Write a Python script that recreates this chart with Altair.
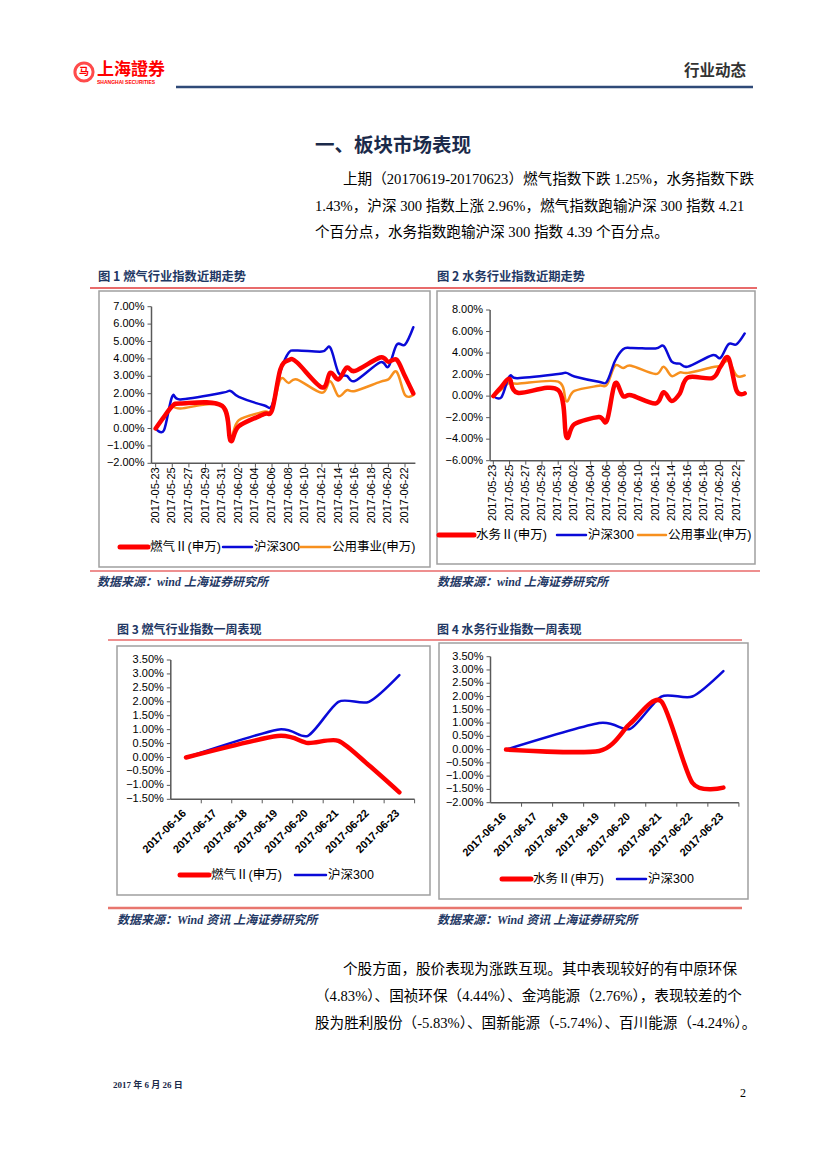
import altair as alt
import pandas as pd

# ---------------- data ----------------
long_dates = ["2017-05-23", "2017-05-24", "2017-05-25", "2017-05-26", "2017-05-31",
              "2017-06-01", "2017-06-02", "2017-06-05", "2017-06-06", "2017-06-07",
              "2017-06-08", "2017-06-09", "2017-06-12", "2017-06-13", "2017-06-14",
              "2017-06-15", "2017-06-16", "2017-06-19", "2017-06-20", "2017-06-21",
              "2017-06-22", "2017-06-23"]
gas_long = [0.00, 0.67, 1.28, 1.44, 1.30, -0.70, 0.13, 0.82, 1.05, 3.40, 3.93, 3.80,
            2.36, 3.20, 2.82, 3.50, 3.31, 4.08, 3.83, 3.95, 3.00, 2.01]
water_long = [0.00, 0.87, 1.60, 0.31, 0.56, -3.78, -2.60, -1.95, -2.29, 1.18, 0.00, 0.08,
              -0.68, 0.37, -0.45, 0.25, 1.73, 1.68, 2.72, 3.55, 0.50, 0.25]
hs300_long = [0.00, -0.10, 1.85, 1.67, 2.05, 2.16, 1.82, 1.34, 1.34, 3.26, 4.35, 4.48,
              4.42, 4.65, 3.20, 3.02, 2.74, 3.80, 3.55, 4.82, 4.82, 5.82]
util_long = [0.00, 0.60, 1.25, 1.15, 1.34, -0.48, 0.48, 0.96, 1.05, 2.82, 2.62, 2.82,
             2.05, 2.72, 1.86, 2.20, 2.16, 2.68, 2.82, 3.26, 1.92, 1.92]

week_dates = ["2017-06-16", "2017-06-19", "2017-06-20", "2017-06-21", "2017-06-22", "2017-06-23"]
gas_week = [0.00, 0.77, 0.52, 0.60, -0.28, -1.25]
water_week = [0.00, -0.05, 0.98, 1.82, -1.25, -1.43]
hs300_week = [0.00, 1.00, 0.78, 2.00, 2.00, 2.96]

long_xlabels = ["2017-05-23", "2017-05-25", "2017-05-27", "2017-05-29", "2017-05-31",
                "2017-06-02", "2017-06-04", "2017-06-06", "2017-06-08", "2017-06-10",
                "2017-06-12", "2017-06-14", "2017-06-16", "2017-06-18", "2017-06-20",
                "2017-06-22"]
week_xlabels = ["2017-06-16", "2017-06-17", "2017-06-18", "2017-06-19", "2017-06-20",
                "2017-06-21", "2017-06-22", "2017-06-23"]

yticks_1 = [-2, -1, 0, 1, 2, 3, 4, 5, 6, 7]
yticks_2 = [-6, -4, -2, 0, 2, 4, 6, 8]
yticks_3 = [-1.5, -1, -0.5, 0, 0.5, 1, 1.5, 2, 2.5, 3, 3.5]
yticks_4 = [-2, -1.5, -1, -0.5, 0, 0.5, 1, 1.5, 2, 2.5, 3, 3.5]

name_gas = "燃气Ⅱ(申万)"
name_water = "水务Ⅱ(申万)"
name_hs = "沪深300"
name_util = "公用事业(申万)"

para1 = ["上期（20170619-20170623）燃气指数下跌 1.25%，水务指数下跌",
         "1.43%，沪深 300 指数上涨 2.96%，燃气指数跑输沪深 300 指数 4.21",
         "个百分点，水务指数跑输沪深 300 指数 4.39 个百分点。"]
para2 = ["个股方面，股价表现为涨跌互现。其中表现较好的有中原环保",
         "（4.83%）、国祯环保（4.44%）、金鸿能源（2.76%），表现较差的个",
         "股为胜利股份（-5.83%）、国新能源（-5.74%）、百川能源（-4.24%）。"]

# ---------------- styles ----------------
RED = "#FF0000"
BLUE = "#0A0AD8"
ORANGE = "#F7901E"
NAVY = "#1F3864"
GRAY = "#A0A0A0"
AXIS = "#595959"
CJK = "Noto Sans CJK SC"
SERIF = "Liberation Serif, 'Noto Sans CJK SC'"
ARIAL = "Liberation Sans, 'Noto Sans CJK SC'"

ONE = alt.Data(values=[{"k": 0}])


def X(px):
    return px - 8


def Y(py):
    return py - 8


def T(text, x, y, size, color="#000000", font=CJK, weight="normal", style="normal",
      align="left", baseline="middle"):
    return alt.Chart(ONE).mark_text(
        text=text, fontSize=size, color=color, font=font, fontWeight=weight,
        fontStyle=style, align=align, baseline=baseline
    ).encode(x=alt.value(X(x)), y=alt.value(Y(y)))


def hline(x1, x2, y, color, width):
    return alt.Chart(ONE).mark_rule(color=color, strokeWidth=width).encode(
        x=alt.value(X(x1)), x2=alt.value(X(x2)), y=alt.value(Y(y)))


def frame(x1, y1, x2, y2):
    return alt.Chart(ONE).mark_rect(fillOpacity=0, stroke=GRAY, strokeWidth=1.5).encode(
        x=alt.value(X(x1)), x2=alt.value(X(x2)), y=alt.value(Y(y1)), y2=alt.value(Y(y2)))


def legend_item(x1, x2, y, color, width, label):
    seg = alt.Chart(ONE).mark_rule(color=color, strokeWidth=width, strokeCap="round").encode(
        x=alt.value(X(x1)), x2=alt.value(X(x2)), y=alt.value(Y(y)))
    return [seg, T(label, x2 + 2, y, 12.5, "#000000", ARIAL)]


def days(dates, start):
    s = pd.Timestamp(start)
    return [(pd.Timestamp(d) - s).days for d in dates]


def panel(xdom, xr, ydom, yr, series, start, xlabels, yticks, weekly):
    xs = alt.Scale(domain=xdom, range=[X(xr[0]), X(xr[1])], nice=False, zero=False)
    ys = alt.Scale(domain=ydom, range=[Y(yr[0]), Y(yr[1])], nice=False, zero=False)
    layers = []
    axes_df = pd.DataFrame({"x": [xdom[0], xdom[0]], "x2": [xdom[0], xdom[1]],
                            "y": [ydom[0], ydom[0]], "y2": [ydom[1], ydom[0]]})
    layers.append(alt.Chart(axes_df).mark_rule(color=AXIS, strokeWidth=1.5).encode(
        x=alt.X("x:Q", scale=xs, axis=None), x2="x2:Q",
        y=alt.Y("y:Q", scale=ys, axis=None), y2="y2:Q"))
    ydf = pd.DataFrame({"v": yticks})
    layers.append(alt.Chart(ydf).mark_rule(color=AXIS, strokeWidth=1).encode(
        y=alt.Y("v:Q", scale=ys, axis=None),
        x=alt.value(X(xr[0] - 4)), x2=alt.value(X(xr[0]))))
    layers.append(alt.Chart(ydf).transform_calculate(
        lab="format(datum.v, '.2f') + '%'"
    ).mark_text(align="right", baseline="middle", fontSize=11, font=ARIAL, color="#000000").encode(
        y=alt.Y("v:Q", scale=ys, axis=None), x=alt.value(X(xr[0] - 7)), text="lab:N"))
    xdf = pd.DataFrame({"lab": xlabels, "d": days(xlabels, start)})
    if weekly:
        tension = 0.25
        layers.append(alt.Chart(xdf).transform_calculate(t="datum.d + 0.5").mark_rule(
            color=AXIS, strokeWidth=1).encode(
            x=alt.X("t:Q", scale=xs, axis=None),
            y=alt.value(Y(yr[0])), y2=alt.value(Y(yr[0] + 4))))
        layers.append(alt.Chart(xdf).mark_text(
            angle=315, align="right", baseline="middle", fontSize=11, font=ARIAL,
            fontWeight="bold", color="#000000", dx=-2).encode(
            x=alt.X("d:Q", scale=xs, axis=None), y=alt.value(Y(yr[0] + 11)), text="lab:N"))
    else:
        tension = 0.0
        layers.append(alt.Chart(xdf).mark_rule(color=AXIS, strokeWidth=1).encode(
            x=alt.X("d:Q", scale=xs, axis=None),
            y=alt.value(Y(yr[0])), y2=alt.value(Y(yr[0] + 4))))
        layers.append(alt.Chart(xdf).mark_text(
            angle=270, align="right", baseline="middle", fontSize=11, font=ARIAL,
            color="#000000").encode(
            x=alt.X("d:Q", scale=xs, axis=None), y=alt.value(Y(yr[0] + 4)), text="lab:N"))
    for dates, vals, color, width in series:
        df = pd.DataFrame({"d": days(dates, start), "v": vals})
        layers.append(alt.Chart(df).mark_line(
            color=color, strokeWidth=width, interpolate="cardinal", tension=tension,
            strokeCap="round", strokeJoin="round").encode(
            x=alt.X("d:Q", scale=xs, axis=None), y=alt.Y("v:Q", scale=ys, axis=None)))
    return alt.layer(*layers)


p1 = panel([-0.5, 31.25], [151.5, 415.4], [-2, 7], [463.3, 306.7],
           [(long_dates, util_long, ORANGE, 2.5), (long_dates, hs300_long, BLUE, 2.5),
            (long_dates, gas_long, RED, 4.5)],
           "2017-05-23", long_xlabels, yticks_1, False)
p2 = panel([-0.4, 31.0], [490.1, 744.7], [-6, 8], [460.7, 310.0],
           [(long_dates, util_long, ORANGE, 2.5), (long_dates, hs300_long, BLUE, 2.5),
            (long_dates, water_long, RED, 4.5)],
           "2017-05-23", long_xlabels, yticks_2, False)
p3 = panel([-0.5, 7.5], [170.8, 414.6], [-1.5, 3.5], [799.3, 660.0],
           [(week_dates, hs300_week, BLUE, 2.5), (week_dates, gas_week, RED, 4.5)],
           "2017-06-16", week_xlabels, yticks_3, True)
p4 = panel([-0.5, 7.5], [490.5, 738.9], [-2, 3.5], [802.7, 656.7],
           [(week_dates, hs300_week, BLUE, 2.5), (week_dates, water_week, RED, 4.5)],
           "2017-06-16", week_xlabels, yticks_4, True)

items = []
# header
items.append(alt.Chart(ONE).mark_point(shape="circle", size=330, filled=False, color=RED,
                                        strokeWidth=3).encode(x=alt.value(X(84)), y=alt.value(Y(72))))
items.append(T("马", 84, 72, 10, RED, CJK, "bold", align="center"))
items.append(T("上海證券", 97, 70, 17, RED, CJK, "bold"))
items.append(T("SHANGHAI SECURITIES", 97, 82, 5, RED, ARIAL, "bold"))
items.append(T("行业动态", 746, 71, 15.5, "#333333", CJK, "bold", align="right"))
items.append(hline(176, 753, 87, "#2F4A78", 2.5))

# section title and paragraph
items.append(T("一、板块市场表现", 315, 146, 19.5, "#1B2A4A", CJK, "bold"))
for i, line in enumerate(para1):
    items.append(T(line, 343 if i == 0 else 315, 180 + 26.5 * i, 14.6, "#000000", SERIF))

# figure titles & separators
items.append(T("图 1 燃气行业指数近期走势", 98, 277, 12.3, NAVY, CJK, "bold"))
items.append(T("图 2 水务行业指数近期走势", 437, 277, 12.3, NAVY, CJK, "bold"))
items.append(hline(90, 757, 288, "#E03A3A", 1.5))
items.append(frame(99, 291, 430, 567))
items.append(frame(437, 291, 755, 564))
items.append(hline(90, 760, 571, "#E86A6A", 1.5))
items.append(T("数据来源：wind 上海证券研究所", 97, 582, 12, NAVY, SERIF, "bold", "italic"))
items.append(T("数据来源：wind 上海证券研究所", 437, 582, 12, NAVY, SERIF, "bold", "italic"))

items.append(T("图 3 燃气行业指数一周表现", 117, 630, 12, NAVY, CJK, "bold"))
items.append(T("图 4 水务行业指数一周表现", 437, 630, 12, NAVY, CJK, "bold"))
items.append(hline(108, 742, 640, "#E86A6A", 1.5))
items.append(frame(117, 646, 430, 895))
items.append(frame(439, 643, 748, 899))
items.append(hline(108, 742, 908, "#E8766E", 2.5))
items.append(T("数据来源：Wind 资讯 上海证券研究所", 117, 920, 12, NAVY, SERIF, "bold", "italic"))
items.append(T("数据来源：Wind 资讯 上海证券研究所", 437, 920, 12, NAVY, SERIF, "bold", "italic"))

# legends
items += legend_item(120, 148, 547, RED, 5, name_gas)
items += legend_item(223, 252, 547, BLUE, 2.5, name_hs)
items += legend_item(300, 330, 547, ORANGE, 2.5, name_util)
items += legend_item(439, 474, 535, RED, 5, name_water)
items += legend_item(557, 586, 535, BLUE, 2.5, name_hs)
items += legend_item(638, 666, 535, ORANGE, 2.5, name_util)
items += legend_item(180, 209, 875, RED, 5, name_gas)
items += legend_item(295, 326, 875, BLUE, 2.5, name_hs)
items += legend_item(502, 531, 879, RED, 5, name_water)
items += legend_item(617, 646, 879, BLUE, 2.5, name_hs)

# bottom paragraph & footer
for i, line in enumerate(para2):
    items.append(T(line, 343 if i == 0 else 315, 970 + 27 * i, 14.6, "#000000", SERIF))
items.append(T("2017 年 6 月 26 日", 113, 1085, 9, "#1B2A4A", SERIF, "bold"))
items.append(T("2", 746, 1093, 12, "#000000", SERIF, align="right"))

chart = alt.layer(*items, p1, p2, p3, p4).resolve_scale(
    x="independent", y="independent"
).properties(
    width=811, height=1150, autosize=alt.AutoSizeParams(type="none"), padding=0
).configure_view(stroke=None)

chart.save("out.html", embed_options={"renderer": "svg", "actions": False})
